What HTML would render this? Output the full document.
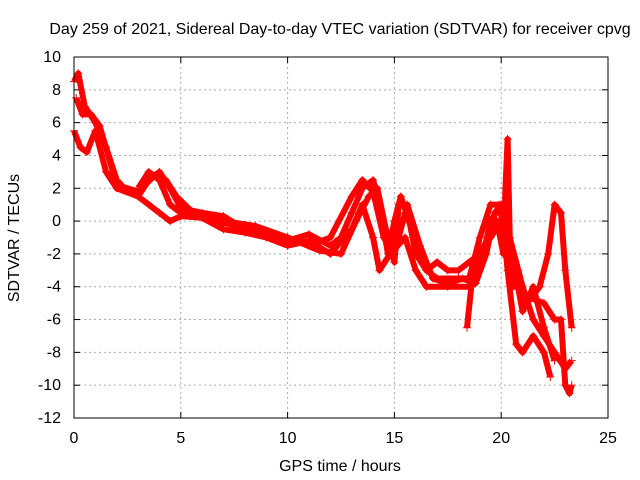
<!DOCTYPE html>
<html><head><meta charset="utf-8"><style>
body{margin:0;background:#fff;}
svg{display:block;font-family:"Liberation Sans",sans-serif;}
</style></head><body>
<svg id="chart" width="640" height="480">
<text x="340" y="34" font-size="16" text-anchor="middle">Day 259 of 2021, Sidereal Day-to-day VTEC variation (SDTVAR) for receiver cpvg</text>
<text x="340" y="471" font-size="16" text-anchor="middle">GPS time / hours</text>
<text x="19" y="238" font-size="16" text-anchor="middle" transform="rotate(-90 19 238)">SDTVAR / TECUs</text>
<g id="grid"></g><g id="series"></g>
<rect x="74" y="57" width="534" height="361" fill="none" stroke="#000"/>
</svg>
<script>
const xTicks=[0,5,10,15,20,25];
const yTicks=[10,8,6,4,2,0,-2,-4,-6,-8,-10,-12];
const traceA=[[0,8.5],[0.2,9],[0.5,7],[1,6],[1.5,4.5],[2,2.5],[2.5,1.8],[3,1.5],[3.5,2.5],[4,3],[4.5,2],[5,0.8],[6,0.5],[7,0.3],[8,-0.5],[9,-0.8],[10,-1.2],[11,-0.8],[12,-1.5],[12.5,-1],[13,0.5],[13.5,2],[14,2.5],[14.3,1],[14.7,-2],[15,0],[15.3,1.5],[15.7,0],[16,-2],[16.5,-3],[17,-3.5],[18,-3.5],[18.5,-3.5],[19,-1],[19.5,1],[19.9,1],[20.2,-1],[20.5,-4],[21,-4],[21.5,-6],[22,-7],[22.5,-8],[23,-9],[23.3,-8.5]];
const traceB=[[0,5.5],[0.3,4.5],[0.6,4.2],[1,5.5],[1.5,3],[2,2],[3,1.5],[3.5,1],[4,0.5],[4.5,0],[5,0.3],[6,0.2],[7,-0.5],[8,-0.7],[9,-1],[10,-1.5],[11,-1.2],[12,-2],[13,-0.5],[13.5,1],[14,-1],[14.3,-3],[14.8,-2],[15.5,-1],[16,-3],[16.5,-4],[17.5,-4],[18.5,-4],[19,-3],[19.5,0],[20,1],[20.3,-3],[20.7,-7.5],[21,-8],[21.5,-7],[22,-8],[22.3,-9.5]];
const traceC=[[3,2],[3.5,3],[4,2.5],[4.5,1],[5,0.5],[10,-1],[11,-1.5],[12,-1],[13,1.5],[13.5,2.5],[14,1.8],[14.5,-1],[15,-2],[15.5,0.5],[16,-1],[16.5,-3],[17,-2.5],[17.5,-3],[18,-3],[19,-2],[19.8,0],[20.1,-2],[20.2,2],[20.3,5],[20.4,-1],[20.8,-3],[21.2,-5],[21.8,-4],[22.2,-2],[22.5,1],[22.8,0.5],[23,-3],[23.3,-6.5]];
const traceD=[[18.4,-6.5],[18.6,-4],[19,-2],[19.5,-1],[20,0],[21,-4.5],[22,-5],[22.5,-6],[22.8,-6],[23,-10],[23.2,-10.5],[23.3,-10]];
const traceE=[[0.1,7.5],[0.4,6.5],[0.8,6.5],[1.2,5.8],[1.6,4],[2,2.2],[3,1.8],[3.8,2.8],[4.3,2.5],[4.8,1.5],[5.5,0.6],[7,0],[8.5,-0.3],[10,-1],[11.5,-1.8],[12.5,-2],[13.2,0],[13.8,1.5],[14.2,2],[14.6,-0.5],[15,-2.5],[15.2,1],[15.6,1],[16.2,-1.5],[16.8,-3.5],[17.5,-3.8],[18.2,-3.5],[18.8,-3.8],[19.3,-2],[19.7,0.5],[20,1],[20.5,-2],[21,-5.5],[21.5,-4],[22,-6.5],[22.5,-8.5]];
const traces=[traceA,traceB,traceC,traceD,traceE];
const NS="http://www.w3.org/2000/svg";
const X=v=>74+v*(534/25), Y=v=>57+(10-v)*(361/22);
const grid=document.getElementById('grid'), ser=document.getElementById('series');
function mk(t,a,p){const e=document.createElementNS(NS,t);for(const k in a)e.setAttribute(k,a[k]);p.appendChild(e);return e;}
xTicks.forEach(v=>{const x=X(v);
 if(v>0&&v<25){const l=mk('line',{x1:x,x2:x,y1:57,y2:418,stroke:'#aaa','stroke-dasharray':'2,3'},grid);
 }
 mk('line',{x1:x,x2:x,y1:418,y2:412,stroke:'#000'},grid);mk('line',{x1:x,x2:x,y1:57,y2:63,stroke:'#000'},grid);
 const t=mk('text',{x:x,y:443,'font-size':16,'text-anchor':'middle'},grid);t.textContent=v;
 });
yTicks.forEach(v=>{const y=Y(v);
 if(v>-12&&v<10){const l=mk('line',{x1:74,x2:608,y1:y,y2:y,stroke:'#aaa','stroke-dasharray':'2,3'},grid);
 }
 mk('line',{x1:74,x2:80,y1:y,y2:y,stroke:'#000'},grid);mk('line',{x1:608,x2:602,y1:y,y2:y,stroke:'#000'},grid);
 const t=mk('text',{x:61,y:y+5,'font-size':16,'text-anchor':'end'},grid);t.textContent=v;
 });
traces.forEach((tr,i)=>{
 const p=mk('polyline',{points:tr.map(d=>X(d[0])+','+Y(d[1])).join(' '),fill:'none',stroke:'#f00','stroke-width':6,'stroke-linejoin':'round'},ser);
 
 
 tr.forEach(d=>{const x=X(d[0]),y=Y(d[1]);
  const m=mk('path',{d:`M${x-4},${y}H${x+4}M${x},${y-4}V${y+4}`,stroke:'#f00','stroke-width':1},ser);
  
  });
});
</script>
</body></html>
